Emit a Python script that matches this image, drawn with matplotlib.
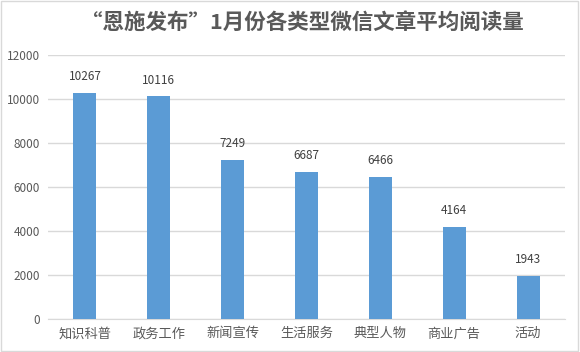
import matplotlib.pyplot as plt

plt.rcParams['font.family'] = ['Noto Sans CJK SC', 'DejaVu Sans']

categories = ['知识科普', '政务工作', '新闻宣传', '生活服务', '典型人物', '商业广告', '活动']
reads = [10267, 10116, 7249, 6687, 6466, 4164, 1943]
yticks = [0, 2000, 4000, 6000, 8000, 10000, 12000]

fig = plt.figure(figsize=(5.8, 3.52), dpi=100)
ax = fig.add_axes([48 / 580, 1 - 319 / 352, 517 / 580, 264 / 352])

x = range(len(categories))
bars = ax.bar(x, reads, width=0.31, color='#5B9BD5', zorder=3)
for xi, v in zip(x, reads):
    ax.text(xi, v + 450, str(v), ha='center', va='bottom', fontsize=8.5, color='#404040')

ax.set_xlim(-0.5, len(categories) - 0.5)
ax.set_ylim(0, 12000)
ax.set_yticks(yticks)
ax.set_yticklabels([str(t) for t in yticks], fontsize=8.5, color='#595959')
ax.set_xticks(list(x))
ax.set_xticklabels(categories, fontsize=9.5, color='#595959')
ax.tick_params(length=0, pad=6)
ax.grid(axis='y', color='#D9D9D9', linewidth=1, zorder=0)
for s in ['top', 'right', 'left']:
    ax.spines[s].set_visible(False)
ax.spines['bottom'].set_color('#D9D9D9')

fig.text(0.521, 1 - 22 / 352, '“恩施发布”1月份各类型微信文章平均阅读量', ha='center', va='center',
         fontsize=15.5, fontweight='bold', color='#595959')

border = plt.Rectangle((0.002, 0.003), 0.995, 0.994, transform=fig.transFigure,
                       fill=False, edgecolor='#D9D9D9', linewidth=1)
fig.patches.append(border)

fig.savefig('out.png', dpi=100)
